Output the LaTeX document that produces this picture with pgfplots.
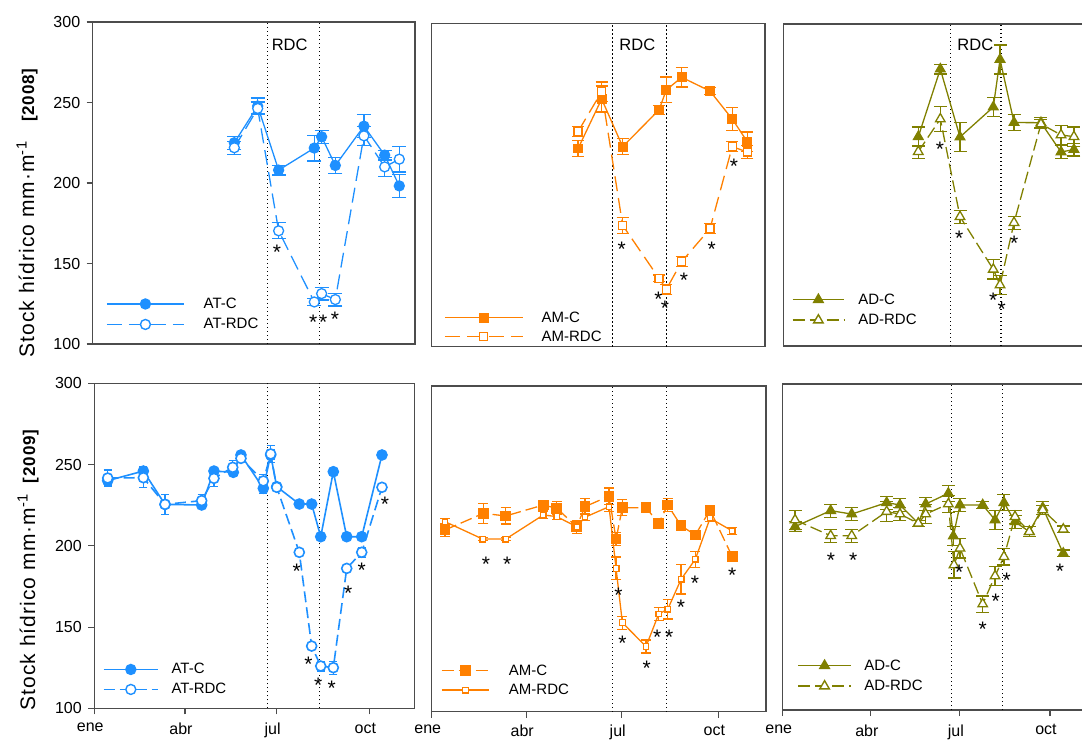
\documentclass[border=0pt]{standalone}
\usepackage{fontspec}
\setmainfont{Liberation Sans}
\usepackage{pgfplots}
\pgfplotsset{compat=1.18}
\definecolor{atblue}{RGB}{30,144,255}
\definecolor{amorange}{RGB}{255,128,0}
\definecolor{adolive}{RGB}{128,128,0}
\pgfplotsset{
 panel/.style={scale only axis, anchor=south west, ymin=100, ymax=300,
   tick align=outside, major tick length=6pt, xtick pos=bottom, ytick pos=left,
   axis line style={black!70,line width=1.1pt},
   every tick/.style={black!70,line width=1.1pt},
   ticklabel style={font=\fontsize{16}{16}\selectfont},
   yticklabel style={xshift=-3pt},
   xticklabel style={yshift=-5pt, xshift=-4pt},
   legend image post style={line width=1.4pt},
   legend style={draw=none, fill=none, anchor=north west, inner sep=0pt,
     font=\fontsize{15}{15}\selectfont, row sep=8.5pt, nodes={inner sep=0pt},
     cells={anchor=west}}},
 leftp/.style={ytick={100,150,200,250,300}, yticklabels={100,150,200,250,300}},
 nolefty/.style={ytick=\empty},
 topp/.style={xtick=\empty},
 botp/.style={xtick={0,90,181,273}, xticklabels={ene,abr,jul,oct}},
 leglen/.style={legend image code/.code={\draw[mark repeat=2,mark phase=2,##1] plot coordinates {(0pt,0pt) (#1/2,0pt) (#1,0pt)};}},
 errb/.style={error bars/.cd, y dir=both, y explicit, error mark=-,
   error bar style={line width=1.2pt, solid},
   error mark options={rotate=90, line width=1.2pt, mark size=#1, solid}},
 errb/.default=6pt,
 stars/.style={draw=none, mark=none, forget plot, nodes near coords={*},
   every node near coord/.append style={anchor=center, inner sep=0pt,
   font=\fontsize{21}{21}\selectfont, black, yshift=-4pt}},
 rdcline/.style={black, line width=1.1pt, dash pattern=on 1.2pt off 2.8pt, forget plot, mark=none},
}
\begin{document}
\begin{tikzpicture}
\path[use as bounding box] (0,0) rectangle (1082pt,740pt);
\clip (0,0) rectangle (1082pt,740pt);

% ---------- TL: AT 2008
\begin{axis}[panel, leftp, topp, at={(92.7pt,396pt)}, width=322.3pt, height=322pt,
  xmin=-1.6, xmax=318.4, leglen=77pt,
  legend style={at={(0.0413,0.1435)}, /tikz/every odd column/.append style={column sep=19pt}}]
\addplot[rdcline] coordinates {(172,100) (172,300)};
\addplot[rdcline] coordinates {(224,100) (224,300)};
\addplot[atblue, line width=1.3pt, mark=*, mark size=5pt, mark options={solid}, errb=7pt]
 coordinates {(139,225) +- (0,4) (162.2,247.8) +- (0,5) (183,208) +- (0,3) (218.4,221.7) +- (0,8)
 (225.7,228.7) +- (0,4) (239.3,210.9) +- (0,5) (267.7,235.3) +- (0,7) (288.3,217.3) +- (0,3) (302.8,198.2) +- (0,7)};
\addplot[atblue, line width=1.3pt, dash pattern=on 15pt off 7pt, mark=*, mark size=5pt, mark options={solid, fill=white}, errb=7pt]
 coordinates {(139,221.9) +- (0,4) (162.2,246.3) +- (0,4) (183,170.3) +- (0,5) (218.4,126.1) +- (0,2)
 (225.7,131.3) +- (0,4) (239.3,127.6) +- (0,4) (267.7,229.3) +- (0,6) (288.3,210) +- (0,6) (302.8,214.8) +- (0,8)};
\legend{AT-C,AT-RDC}
\addplot[stars] coordinates {(181.4,159.3) (217.4,115.8) (227.3,115.8) (239,117.8)};
\node[anchor=west, inner sep=0pt, font=\fontsize{16.5}{16.5}\selectfont] at (axis cs:176,286) {RDC};
\end{axis}

% ---------- TM: AM 2008
\begin{axis}[panel, nolefty, topp, at={(431.7pt,393.3pt)}, width=333.3pt, height=323.4pt,
  xmin=0, xmax=317.5, leglen=77.7pt,
  legend style={at={(0.0369,0.1088)}, row sep=7pt, /tikz/every odd column/.append style={column sep=18.3pt}}]
\addplot[rdcline] coordinates {(172,100) (172,300)};
\addplot[rdcline] coordinates {(224,100) (224,300)};
\addplot[amorange, line width=1.3pt, mark=square*, mark size=4.2pt, mark options={solid}, errb=6pt]
 coordinates {(139.4,222.5) +- (0,5) (161.9,253.2) +- (0,8) (181.9,223.7) +- (0,5) (216.5,246.4) +- (0,3)
 (223.5,258.8) +- (0,8) (238.1,266.6) +- (0,6) (265.1,258.1) +- (0,2) (286.3,240.8) +- (0,7) (300.6,226.8) +- (0,6)};
\addplot[amorange, line width=1.3pt, dash pattern=on 15pt off 7pt, mark=square*, mark size=4pt, mark options={solid, fill=white}, errb=6pt]
 coordinates {(139.4,233) +- (0,3) (161.9,257.7) +- (0,6) (181.9,175.1) +- (0,5) (216.5,142.3) +- (0,2)
 (223.5,135.5) +- (0,3) (238.1,152.6) +- (0,3) (265.1,173) +- (0,3) (286.3,223.7) +- (0,3) (300.6,220.4) +- (0,4)};
\legend{AM-C,AM-RDC}
\addplot[stars] coordinates {(181,162.5) (216,131.5) (222.2,126) (240.3,143.3) (266.7,162.5) (288,214)};
\node[anchor=west, inner sep=0pt, font=\fontsize{16.5}{16.5}\selectfont] at (axis cs:178.7,286.6) {RDC};
\end{axis}

% ---------- TR: AD 2008
\begin{axis}[panel, nolefty, topp, at={(783.3pt,394pt)}, width=310.7pt, height=322pt,
  xmin=0.6, xmax=318, leglen=51.6pt,
  legend style={at={(0.027,0.163)}, /tikz/every odd column/.append style={column sep=13.4pt}}]
\addplot[rdcline] coordinates {(171,100) (171,300)};
\addplot[rdcline] coordinates {(223,100) (223,300)};
\addplot[adolive, line width=1.3pt, mark=triangle*, mark size=5.5pt, mark options={solid}, errb=6.5pt]
 coordinates {(138.5,230) +- (0,6) (161,272) +- (0,3) (181.1,229.8) +- (0,9) (215.1,248.4) +- (0,6)
 (222,278) +- (0,9) (236.3,238.8) +- (0,5) (263.8,238.7) +- (0,3) (284.3,220.5) +- (0,4) (297.5,222) +- (0,4)};
\addplot[adolive, line width=1.3pt, dash pattern=on 12pt off 5pt, mark=triangle*, mark size=5.5pt, mark options={solid, fill=white}, errb=6.5pt]
 coordinates {(138.5,220.7) +- (0,4) (161,241) +- (0,8) (181.1,180.3) +- (0,4) (215.1,147.6) +- (0,6)
 (222,137.9) +- (0,6) (236.3,176.6) +- (0,4) (263.8,237.9) +- (0,3) (284.3,231.1) +- (0,6) (297.5,230) +- (0,6)};
\legend{AD-C,AD-RDC}
\addplot[stars] coordinates {(160.7,224.9) (180.4,169.4) (215.1,130.6) (223.7,125.5) (236.6,166.5)};
\node[anchor=west, inner sep=0pt, font=\fontsize{16.5}{16.5}\selectfont] at (axis cs:178.3,287) {RDC};
\end{axis}

% ---------- BL: AT 2009
\begin{axis}[panel, leftp, botp, at={(94.3pt,31.7pt)}, width=320pt, height=325pt,
  xmin=0, xmax=317.7, leglen=54.6pt,
  legend style={at={(0.026,0.1385)}, row sep=8pt, /tikz/every odd column/.append style={column sep=12.7pt}}]
\addplot[rdcline] coordinates {(172,100) (172,300)};
\addplot[rdcline] coordinates {(224,100) (224,300)};
\addplot[atblue, line width=1.6pt, mark=*, mark size=5pt, mark options={solid}, errb=4pt]
 coordinates {(13.3,240.1) +- (0,3) (48.7,246) +- (0,3) (70.2,225.5) +- (0,1) (106.6,225.1) +- (0,1.5)
 (118.8,246) +- (0,2) (138,245.2) +- (0,2) (145.6,255.9) +- (0,2) (167.8,235.4) +- (0,3) (175.1,255.9) +- (0,3)
 (181.1,236.4) +- (0,2) (203.5,225.7) +- (0,1) (215.8,225.7) +- (0,1) (224.8,205.6) +- (0,1) (237.3,245.6) +- (0,1)
 (250.6,205.6) +- (0,1) (265.5,205.6) +- (0,1) (285.6,255.9) +- (0,2)};
\addplot[atblue, line width=1.6pt, dash pattern=on 11pt off 5pt, mark=*, mark size=5pt, mark options={solid, fill=white}, errb=4pt]
 coordinates {(13.3,241.7) +- (0,5) (48.7,241.9) +- (0,6) (70.2,225.5) +- (0,6) (106.6,227.8) +- (0,4)
 (118.8,241.5) +- (0,5) (137.4,248.3) +- (0,4) (145.6,253.8) +- (0,2) (167.8,239.9) +- (0,4) (175.1,256.5) +- (0,5)
 (181.1,236) +- (0,2) (203.5,196) +- (0,1) (215.8,138.3) +- (0,2) (224.8,126) +- (0,3) (237.3,125) +- (0,4)
 (250.6,186.1) +- (0,2) (265.5,196) +- (0,3) (285.6,236) +- (0,1)};
\legend{AT-C,AT-RDC}
\addplot[stars] coordinates {(200.9,186.5) (212.5,129.3) (222.4,116.4) (235.7,115) (252.2,173.2) (265.5,187.6) (288.6,227.8)};
\end{axis}

% ---------- BM: AM 2009
\begin{axis}[panel, nolefty, botp, at={(431.7pt,28.3pt)}, width=334.3pt, height=325.7pt,
  xmin=0, xmax=318.4, leglen=47.6pt, xticklabel style={yshift=1.5pt},
  legend style={at={(0.027,0.145)}, row sep=7.5pt, /tikz/every odd column/.append style={column sep=19pt}}]
\addplot[rdcline] coordinates {(172,100) (172,300)};
\addplot[rdcline] coordinates {(224,100) (224,300)};
\addplot[amorange, line width=1.3pt, dash pattern=on 12pt off 5pt, mark=square*, mark size=4.7pt, mark options={solid}, errb=5pt]
 coordinates {(12.7,211.6) +- (0,4) (49.2,221.8) +- (0,6) (70.5,220.2) +- (0,5) (106.3,226.9) +- (0,3)
 (119.1,224.9) +- (0,4) (138.1,213.6) +- (0,3) (146,225.9) +- (0,5) (168.9,232.4) +- (0,5) (175.6,206) +- (0,4)
 (181.6,225.3) +- (0,5) (204.1,225.3) +- (0,2) (216.2,215.7) +- (0,3) (224.8,226.9) +- (0,4) (237.5,214.2) +- (0,2)
 (251.1,208.5) +- (0,2) (265.1,223.9) +- (0,2) (286.3,195.2) +- (0,2)};
\addplot[amorange, line width=1.3pt, mark=square*, mark size=2.8pt, mark options={solid, fill=white}, errb=5pt]
 coordinates {(12.7,216.7) +- (0,2) (48.6,206) +- (0,1) (70.5,206) +- (0,1) (106.3,220.8) +- (0,2)
 (119.1,219.8) +- (0,2) (138.1,213.6) +- (0,4) (146,219.4) +- (0,2) (168.9,225.9) +- (0,3) (175.6,188) +- (0,7)
 (181.6,154.7) +- (0,4) (204.1,140) +- (0,4) (216.2,160) +- (0,4) (224.8,162.9) +- (0,6) (237.5,181.3) +- (0,9)
 (251.1,193.6) +- (0,5) (265.1,218.8) +- (0,2) (286.3,211) +- (0,2)};
\legend{AM-C,AM-RDC}
\addplot[stars] coordinates {(51.7,192.7) (72,192.7) (177.8,173.7) (181.6,144.4) (204.8,129.3) (214.9,148.1) (226.3,148.1) (237.5,166.6) (250.8,181.3) (286.3,186)};
\end{axis}

% ---------- BR: AD 2009
\begin{axis}[panel, nolefty, botp, at={(782.7pt,30pt)}, width=311.3pt, height=326pt,
  xmin=0, xmax=318, leglen=52.7pt,
  legend style={at={(0.047,0.155)}, /tikz/every odd column/.append style={column sep=12.7pt}}]
\addplot[rdcline] coordinates {(172.5,100) (172.5,300)};
\addplot[rdcline] coordinates {(224.3,100) (224.3,300)};
\addplot[adolive, line width=1.3pt, mark=triangle*, mark size=5.5pt, mark options={solid}, errb=6.5pt]
 coordinates {(12.6,212.5) +- (0,3) (49,222.3) +- (0,4) (70.5,220.2) +- (0,4) (106.2,227.2) +- (0,4)
 (119.8,225.8) +- (0,4) (138.5,214.5) +- (0,2) (146.1,226.4) +- (0,4) (169.2,232.9) +- (0,5) (174.3,206.7) +- (0,6)
 (181.1,225.8) +- (0,4) (204.3,225.8) +- (0,2) (216.9,216.6) +- (0,6) (226,227.2) +- (0,5) (237.3,215.5) +- (0,4)
 (251.9,209.4) +- (0,3) (265.6,224.1) +- (0,4) (286.6,196.1) +- (0,2)};
\addplot[adolive, line width=1.3pt, dash pattern=on 12pt off 5pt, mark=triangle*, mark size=5.5pt, mark options={solid, fill=white}, errb=6.5pt]
 coordinates {(12.6,216.6) +- (0,6) (49,206.9) +- (0,4) (70.5,206.9) +- (0,4) (106.2,221.7) +- (0,6)
 (119.8,220.2) +- (0,4) (138.5,214.5) +- (0,2) (146.1,220.2) +- (0,6) (169.2,226.4) +- (0,5) (175,189) +- (0,8)
 (181.1,199.2) +- (0,6) (204.3,165) +- (0,5) (216.9,182.2) +- (0,6) (226,194) +- (0,5) (237.3,218.6) +- (0,4)
 (251.9,209.4) +- (0,3) (265.6,222.7) +- (0,3) (286.6,210.9) +- (0,2)};
\legend{AD-C,AD-RDC}
\addplot[stars] coordinates {(49.3,194.5) (72.1,194.5) (180.4,186.9) (204.3,152.1) (217.6,169.1) (228.8,182.2) (283.2,187.5)};
\end{axis}

% y labels
\node[rotate=90, inner sep=0pt, font=\fontsize{21}{21}\selectfont\addfontfeatures{LetterSpace=5}] at (27pt,527pt)
 {Stock hídrico mm·m\textsuperscript{-1}\hspace{0.9em}{\fontsize{17}{17}\selectfont\bfseries [2008]}};
\node[rotate=90, inner sep=0pt, font=\fontsize{21}{21}\selectfont\addfontfeatures{LetterSpace=5}] at (28pt,170pt)
 {Stock hídrico mm·m\textsuperscript{-1}\hspace{0.5em}{\fontsize{17}{17}\selectfont\bfseries [2009]}};
\end{tikzpicture}
\end{document}
